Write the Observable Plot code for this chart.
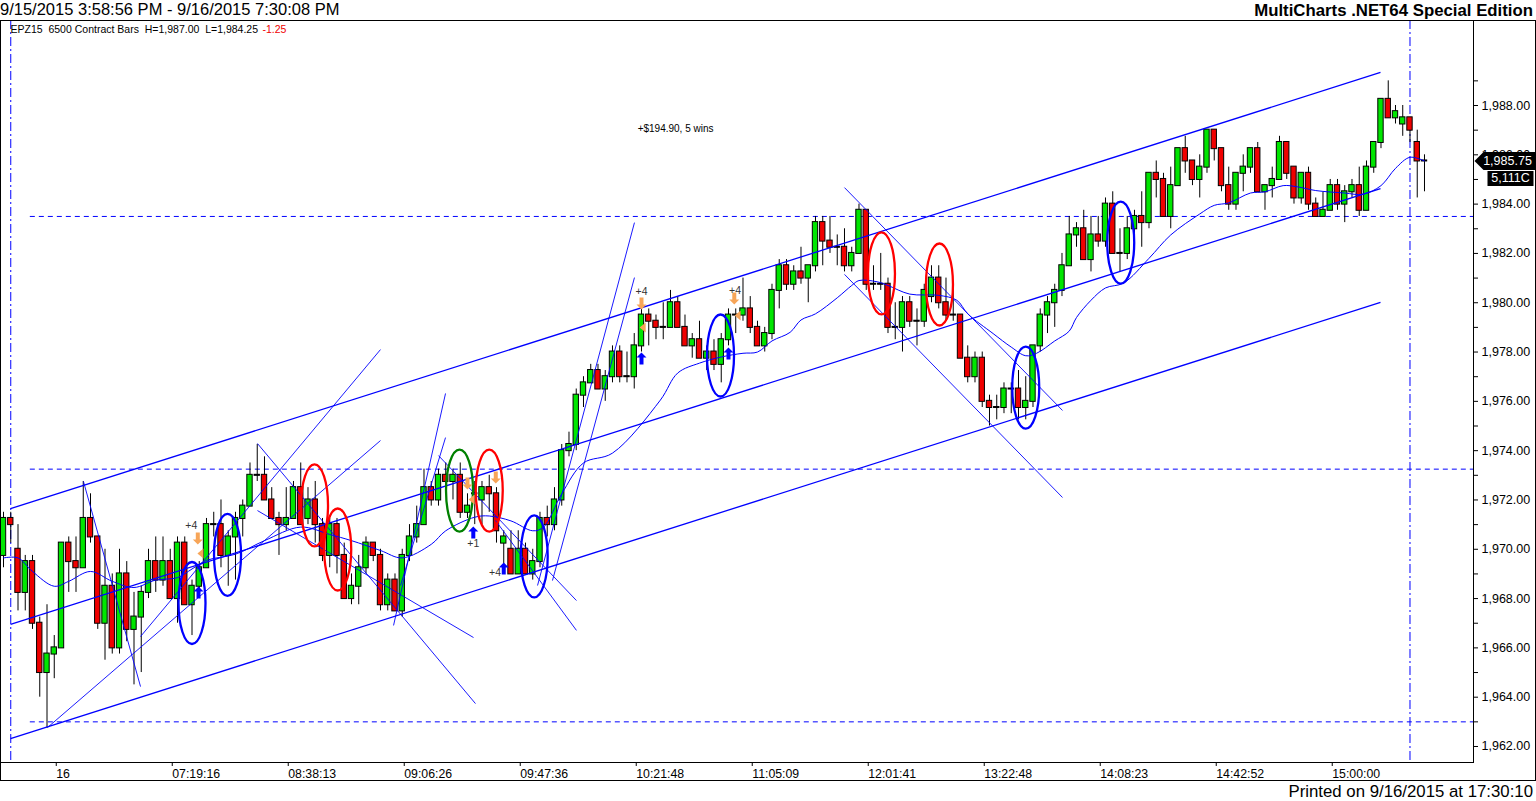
<!DOCTYPE html>
<html><head><meta charset="utf-8">
<script src="https://cdn.jsdelivr.net/npm/d3@7"></script>
<script src="https://cdn.jsdelivr.net/npm/@observablehq/plot@0.6"></script>
<style>
html,body{margin:0;padding:0;background:#fff;}
body{width:1536px;height:801px;overflow:hidden;font-family:"Liberation Sans",Arial,sans-serif;color:#000;}
#hdr{position:relative;height:20px;}
#title{position:absolute;left:0;top:0px;font-size:16.5px;line-height:19px;white-space:nowrap;}
#brand{position:absolute;right:3px;top:1px;font-size:16.8px;line-height:19px;font-weight:bold;white-space:nowrap;}
#ftr{position:relative;height:20px;}
#printed{position:absolute;right:3px;top:1px;font-size:16.8px;line-height:19px;white-space:nowrap;}
#chart svg{display:block;outline:1px solid #000;outline-offset:-1px;}
</style></head>
<body>
<div id="hdr"><span id="title">9/15/2015 3:58:56 PM - 9/16/2015 7:30:08 PM</span><span id="brand">MultiCharts .NET64 Special Edition</span></div>
<div id="chart"></div>
<div id="ftr"><span id="printed">Printed on 9/16/2015 at 17:30:10</span></div>
<script>
// ---- candle data (6500 contract bars, EPZ15) ----
const opens = [
1969.75,1971.25,1970,1968.25,1969.5,1967,1965,1965.75,1966,1970.25,
1969.5,1969.25,1971.25,1970.5,1967,1968.5,1966,1969,1966.75,1967.25,
1968.25,1969.5,1968.75,1969.5,1968,1970.25,1967.75,1968.5,1969.25,1971,
1971,1969.75,1970.5,1971.25,1971.75,1973,1973,1972,1971.25,1971,
1971.25,1972.5,1971.25,1972,1971,1969.75,1971,1969.75,1968,1968.5,
1969.25,1970.25,1969.75,1967.75,1968.75,1967.5,1969.75,1970.5,1971,1972.5,
1972,1973,1972.75,1973,1971.5,1972.25,1972,1972.5,1972.25,1970.25,
1970,1969,1970,1969,1969.5,1971.25,1971,1972,1974,1974.25,
1976.25,1976.75,1977.25,1976.5,1977,1978,1977,1977,1978.25,1979.5,
1979.25,1979,1979,1980,1979,1978.25,1978.5,1977.75,1978,1977.5,
1978.5,1979.5,1979.5,1979.75,1979,1978.25,1978.75,1980.5,1981.5,1980.75,
1981.25,1981,1981.5,1983.25,1982.5,1982.25,1982.25,1981.5,1982,1983.75,
1980.75,1980.75,1980.75,1979,1979,1980,1979.25,1979.25,1980.25,1981,
1980,1979.5,1979.5,1977.75,1977,1977.75,1976,1975.75,1975.75,1976.5,
1976.5,1975.75,1976,1978.25,1979.5,1980,1980.5,1981.5,1982.75,1983,
1981.75,1982.75,1982.5,1984,1982,1982,1983,1983.5,1983.25,1985.25,
1985,1983.5,1984.75,1986.25,1985.75,1985,1985.5,1987,1986.25,1984.75,
1984,1985.25,1985.5,1986.25,1984.5,1984.75,1985,1986.5,1985.5,1984.25,
1985.25,1984,1983.5,1983.75,1984.75,1984,1984.5,1984.75,1983.75,1985.5,
1986.5,1988.25,1987.5,1987.25,1987.5,1986.5,1985.75];
const highs = [
1971.5,1971.5,1971,1969.75,1969.75,1967.25,1967.75,1966.5,1970.25,1970.5,
1970.5,1972.75,1972.25,1970.5,1970,1969,1970,1969.5,1968.25,1968.5,
1970,1970.5,1970.5,1970,1970.5,1970.5,1968.75,1969.5,1971.25,1971.5,
1972,1970.75,1971.5,1972,1973.5,1974.25,1973.75,1972.5,1971.5,1972.5,
1972.75,1973.5,1972.5,1972.75,1971.25,1971.25,1971.25,1970.25,1969,1969.75,
1970.5,1970.25,1970,1969,1969,1970,1971,1971.75,1973.25,1972.75,
1973.25,1973.5,1973.25,1973.5,1972.25,1972.75,1972.75,1973,1972.5,1970.75,
1970.75,1970.75,1970.25,1970,1971.5,1971.75,1972.5,1974.25,1974.75,1976.5,
1977,1977.5,1977.5,1977.25,1978.25,1978.25,1978,1978.75,1979.75,1979.75,
1979.5,1980,1980.5,1980.25,1979.5,1978.75,1979.25,1978.25,1978.5,1978.75,
1979.75,1979.75,1981,1980.25,1979.25,1979,1980.75,1981.75,1981.75,1981.5,
1982.25,1981.5,1983.5,1983.5,1983.5,1982.75,1983,1982.25,1984,1983.75,
1981.5,1982,1981,1980,1980.25,1980.25,1979.75,1980.75,1981.5,1981.5,
1981,1980.75,1979.5,1978.25,1978,1978,1976.25,1976.25,1976.75,1976.75,
1977.25,1977,1978.25,1979.75,1980.25,1980.75,1982,1983.5,1983.25,1983.75,
1983.5,1983.5,1984.25,1984.5,1983,1983.5,1983.75,1984.5,1985.25,1985.75,
1985.25,1985.5,1986.25,1986.75,1985.75,1986,1987,1987,1986.25,1985.5,
1985.25,1986,1986.25,1986.5,1984.75,1985.5,1986.75,1986.5,1985.5,1985.25,
1985.5,1984.25,1984.5,1985,1985,1984.75,1985,1985.5,1985.75,1986.5,
1988.25,1989,1988,1988,1987.5,1987,1986];
const lows = [
1969.25,1970.25,1967.5,1967.5,1966.75,1964,1962.75,1964.75,1966,1968.25,
1968.25,1969.25,1970.25,1966.75,1965.5,1965.75,1965.75,1966.25,1964.5,1965,
1968,1968.25,1968.5,1968,1967,1967.75,1966.5,1968.25,1969.25,1970.5,
1969.25,1968.5,1968.75,1970.5,1971.75,1972.75,1972,1971.25,1969.75,1970.75,
1971.25,1971,1971,1970.25,1969.5,1969.25,1969,1968,1967.75,1967.75,
1969,1969.5,1967.5,1967.5,1967.5,1967.25,1969.5,1970.25,1971,1971.75,
1971.75,1972.25,1972,1971.25,1971.25,1971,1971,1971.5,1970.25,1969.25,
1969,1969,1969,1968.75,1969.25,1970.5,1970.75,1971.75,1973.75,1974,
1975.75,1976.75,1976.5,1976,1976.75,1976.75,1976.75,1976.5,1978,1978.25,
1978.5,1978.5,1979,1979,1978.25,1977.75,1977.75,1977.25,1977.25,1976.75,
1978.25,1978.75,1979.25,1978.75,1978.25,1978,1978.5,1979.75,1980.5,1980.5,
1980.75,1980,1981.25,1981.5,1982,1981.5,1981.25,1981.25,1982,1980.5,
1980.5,1980.5,1978.75,1978.5,1978,1979,1978.25,1979,1980,1979.75,
1979.25,1979.25,1977.75,1976.75,1976.75,1975.75,1975,1975.25,1975.5,1975.5,
1975.25,1975.25,1975.75,1978,1978.75,1979,1980.25,1981.5,1982.25,1981.75,
1981.25,1982.25,1982.25,1982,1981.25,1981.75,1982.25,1982.25,1983,1984.25,
1983.5,1983,1984.75,1985.25,1984.75,1984.25,1985.25,1985.75,1984.5,1983.75,
1983.75,1984.5,1985.25,1984.5,1983.75,1984.25,1985,1985,1984,1984,
1983.75,1983.5,1983.5,1983.75,1983.75,1983.25,1984.25,1983.5,1983.75,1985.25,
1986.25,1987.5,1987.25,1986.75,1986.5,1984.25,1984.5];
const closes = [
1971.25,1971,1968.25,1969.5,1967,1965,1965.75,1966,1970.25,1969.5,
1969.25,1971.25,1970.5,1967,1968.5,1966,1969,1966.75,1967.25,1968.25,
1969.5,1968.75,1969.5,1968,1970.25,1967.75,1968.5,1969.25,1971,1971,
1969.75,1970.5,1971.25,1971.75,1973,1973,1972,1971.25,1971,1971.25,
1972.5,1971,1972,1971,1969.75,1971,1969.75,1968,1968.5,1969.25,
1970.25,1969.75,1967.75,1968.75,1967.5,1969.75,1970.5,1971,1972.5,1972,
1973,1972.75,1973,1971.5,1971.75,1972.25,1972.5,1972.25,1970.75,1970.5,
1969,1970,1969,1969.5,1971.25,1971,1972,1974,1974.25,1976.25,
1976.75,1977.25,1976.5,1977,1978,1977,1977,1978.25,1979.5,1979.25,
1979,1979,1980,1979,1978.25,1978.5,1977.75,1978,1977.5,1978.5,
1979.5,1979.5,1979.75,1979,1978.25,1978.75,1980.5,1981.5,1980.75,1981.25,
1981,1981.5,1983.25,1982.5,1982.25,1982.25,1981.5,1982,1983.75,1980.75,
1980.75,1980.75,1979,1979,1980,1979.25,1979.25,1980.5,1981,1980,
1979.5,1979.5,1977.75,1977,1977.75,1976,1975.75,1975.75,1976.5,1976.5,
1975.75,1976,1978.25,1979.5,1980,1980.5,1981.5,1982.75,1983,1981.75,
1982.75,1982.5,1984,1982,1982,1983,1983.5,1983.25,1985.25,1985,
1983.5,1984.75,1986.25,1985.75,1985,1985.5,1987,1986.25,1984.75,1984,
1985.25,1985.5,1986.25,1984.5,1984.75,1985,1986.5,1985.25,1984.25,1985.25,
1984,1983.5,1983.75,1984.75,1984,1984.5,1984.75,1983.75,1985.5,1986.5,
1988.25,1987.5,1987.75,1987.5,1987,1985.75,1985.75];

// ---- x-axis ticks (bar index -> time label) ----
const tickIdx = [7,23,39,55,71,87,103,119,135,151,167,183];
const tickLabels = ["16","07:19:16","08:38:13","09:06:26","09:47:36","10:21:48","11:05:09","12:01:41","13:22:48","14:08:23","14:42:52","15:00:00"];
const yTicks = [1962,1964,1966,1968,1970,1972,1974,1976,1978,1980,1982,1984,1986,1988];
const yMinor = [1963,1965,1967,1969,1971,1973,1975,1977,1979,1981,1983,1985,1987,1989];

// ---- moving average ----
const maIdx = [0,2,4,7,9,12,15,18,21,24,26,28,32,36,41,45,48,52,55,59,61,65,67,70,73,74.5,77,80,84,90.6,93,96,99,102,104,106,108.5,110,112,115,117,118,120.5,122,125,129,131.5,133,136.5,139,141,142.5,145,147,148,150,152,154.5,158,161,165,167,169,172,174,176.5,178.5,181,185,187.5,190,192,194,196];
const maVal = [1969.65,1969.65,1969.1,1968.5,1968.7,1969.1,1968.7,1968.45,1968.75,1968.85,1969.2,1969.55,1969.8,1970.35,1970.9,1970.6,1970.35,1969.95,1969.65,1970.2,1970.75,1971.3,1971.35,1971.15,1970.75,1970.9,1972.25,1973.5,1973.9,1976.05,1977.15,1977.55,1977.8,1977.95,1978.0,1978.45,1978.8,1979.3,1979.55,1980.2,1980.7,1980.9,1980.85,1980.7,1980.35,1980.3,1980.1,1979.55,1978.75,1978.2,1977.85,1977.95,1978.45,1978.85,1979.4,1980.1,1980.6,1980.8,1981.8,1982.75,1983.6,1983.95,1984.05,1984.45,1984.5,1984.75,1984.7,1984.55,1984.45,1984.4,1984.75,1985.45,1985.9,1985.75];

// ---- regression channel ----
const chanX1 = [0.97,0.97,0.97];
const chanY1 = [1971.65,1966.95,1962.32];
const chanX2 = [189.93,189.93,189.93];
const chanY2 = [1989.34,1984.63,1980.01];

// ---- drawn trendlines ----
const trendX1 = [6.07,18.9,11.03,35.03,35.03,53.8,54.76,60.0,67.86,73.66,75.72,116.0,116.0];
const trendY1 = [1962.77,1966.46,1972.75,1974.29,1971.57,1966.91,1968.53,1973.80,1971.17,1968.53,1968.73,1984.67,1981.15];
const trendX2 = [52.0,52.0,18.9,65.1,64.83,60.97,60.97,79.03,79.03,87.03,87.03,146.07,146.07];
const trendY2 = [1974.41,1978.10,1964.43,1963.74,1966.42,1976.32,1974.53,1967.92,1966.71,1983.25,1981.02,1975.63,1972.10];

// ---- horizontal levels & session markers ----
const hLevels = [1983.5,1973.25,1963];
const hStartIdx = 3.7;
const sessionIdx = [1,194];

// ---- ellipse highlights ----
const ellIdx = [26.0,30.9,73.2,98.9,141.0,154.1,42.9,46.1,67.0,121.1,129.1,62.9];
const ellPrice = [1967.82,1969.77,1969.71,1977.86,1976.56,1982.44,1971.78,1969.99,1972.38,1981.19,1980.74,1972.38];
const ellColor = ["#0000ff","#0000ff","#0000ff","#0000ff","#0000ff","#0000ff","#ff0000","#ff0000","#ff0000","#ff0000","#ff0000","#008000"];

// ---- trade markers ----
const buyIdx = [26.9,64.8,69.0,88.0,100.0];
const buyPrice = [1968.25,1970.68,1969.22,1977.74,1977.94];
const exitIdx = [26.8,64.0,67.9,88.0,100.8];
const exitPrice = [1970.44,1972.67,1972.91,1979.97,1980.17];
const markIdx = [27.3,64.7,88.3,101.4];
const markPrice = [1969.83,1972.02,1979.0,1979.48];
const tradeLblIdx = [25.9,64.8,67.8,88.0,100.9];
const tradeLblPrice = [1970.96,1970.23,1969.06,1980.45,1980.5];
const tradeLbl = ["+4","+1","+4","+4","+4"];
const summaryIdx = [92.7];
const summaryPrice = [1987.07];
const summaryText = ["+$194.90, 5 wins"];

const lastClose = [1985.75];
const lastVolume = ["5,111C"];
const headerMain = ["EPZ15  6500 Contract Bars  H=1,987.00  L=1,984.25"];
const headerChange = ["-1.25"];

// ---- build tables ----
const candles = opens.map((o, i) => ({i, open: o, high: highs[i], low: lows[i], close: closes[i],
  color: closes[i] > o ? "#00e600" : closes[i] < o ? "#f00000" : "#000000"}));
const ma = maIdx.map((x, k) => ({x, y: maVal[k]}));
const chans = chanX1.map((x, k) => ({x1: x, y1: chanY1[k], x2: chanX2[k], y2: chanY2[k]}));
const trends = trendX1.map((x, k) => ({x1: x, y1: trendY1[k], x2: trendX2[k], y2: trendY2[k]}));
const ells = ellIdx.map((x, k) => ({x, y: ellPrice[k], c: ellColor[k]}));
const buys = buyIdx.map((x, k) => ({x, y: buyPrice[k]}));
const exits = exitIdx.map((x, k) => ({x, y: exitPrice[k]}));
const marks = markIdx.map((x, k) => ({x, y: markPrice[k]}));
const tlbls = tradeLblIdx.map((x, k) => ({x, y: tradeLblPrice[k], t: tradeLbl[k]}));
const summ = summaryIdx.map((x, k) => ({x, y: summaryPrice[k], t: summaryText[k]}));

const X_DOMAIN = [-0.414, 202.76];
const Y_DOMAIN = [1961.351, 1991.448];

const ellipseSym = {draw(ctx) {
  const rx = 13.5, ry = 41, k = 0.5523;
  ctx.moveTo(rx, 0);
  ctx.bezierCurveTo(rx, k * ry, k * rx, ry, 0, ry);
  ctx.bezierCurveTo(-k * rx, ry, -rx, k * ry, -rx, 0);
  ctx.bezierCurveTo(-rx, -k * ry, -k * rx, -ry, 0, -ry);
  ctx.bezierCurveTo(k * rx, -ry, rx, -k * ry, rx, 0);
  ctx.closePath();
}};
const priceBadge = {draw(ctx) {
  ctx.moveTo(1, 0); ctx.lineTo(10, -9); ctx.lineTo(62, -9); ctx.lineTo(62, 9); ctx.lineTo(10, 9); ctx.closePath();
}};
const volBadge = {draw(ctx) {
  ctx.moveTo(14, -7.5); ctx.lineTo(60, -7.5); ctx.lineTo(60, 7.5); ctx.lineTo(14, 7.5); ctx.closePath();
}};
// thick arrow glyph shapes (MultiCharts trade arrows)
const upArrow = {draw(ctx) {
  ctx.moveTo(0, -6); ctx.lineTo(5, -1); ctx.lineTo(2, -1); ctx.lineTo(2, 6); ctx.lineTo(-2, 6); ctx.lineTo(-2, -1); ctx.lineTo(-5, -1); ctx.closePath();
}};
const downArrow = {draw(ctx) {
  ctx.moveTo(0, 6); ctx.lineTo(5, 1); ctx.lineTo(2, 1); ctx.lineTo(2, -6); ctx.lineTo(-2, -6); ctx.lineTo(-2, 1); ctx.lineTo(-5, 1); ctx.closePath();
}};
const leftTri = {draw(ctx) {
  ctx.moveTo(-4, 0); ctx.lineTo(2, -5); ctx.lineTo(2, 5); ctx.closePath();
}};

const BLUE = "#0000ff";
const FONT = "Liberation Sans, Arial, sans-serif";

const plot = Plot.plot({
  width: 1536, height: 761,
  marginTop: 0, marginBottom: 19, marginLeft: 0, marginRight: 63,
  x: {domain: X_DOMAIN, label: null},
  y: {domain: Y_DOMAIN, label: null},
  style: {fontFamily: FONT, fontSize: "12px", color: "#000", background: "#fff", overflow: "visible"},
  marks: [
    Plot.frame({stroke: "#000"}),
    Plot.ruleY(hLevels, {y: d => d, x1: () => hStartIdx, x2: () => X_DOMAIN[1], stroke: BLUE, strokeDasharray: "5,4", strokeWidth: 1}),
    Plot.ruleX(sessionIdx, {x: d => d, stroke: BLUE, strokeDasharray: "9,3,2,3", strokeWidth: 1}),
    // candles
    Plot.ruleX(candles, {x: "i", y1: "low", y2: "high", stroke: "#000", strokeWidth: 1}),
    Plot.rect(candles, {x1: d => d.i - 0.37, x2: d => d.i + 0.37, y1: "open", y2: "close", fill: "color", stroke: "#000", strokeWidth: 1, insetTop: -0.5, insetBottom: -0.5}),
    // lines
    Plot.link(chans, {x1: "x1", y1: "y1", x2: "x2", y2: "y2", stroke: BLUE, strokeWidth: 1.3}),
    Plot.link(trends, {x1: "x1", y1: "y1", x2: "x2", y2: "y2", stroke: BLUE, strokeWidth: 0.9}),
    Plot.line(ma, {x: "x", y: "y", stroke: BLUE, strokeWidth: 1, curve: "catmull-rom"}),
    // ellipses
    Plot.dot(ells, {x: "x", y: "y", symbol: ellipseSym, r: 5, fill: "none", stroke: "c", strokeWidth: 2.3}),
    // trade markers
    Plot.dot(exits, {x: "x", y: "y", symbol: downArrow, r: 5, fill: "#f7a558", stroke: "none"}),
    Plot.dot(marks, {x: "x", y: "y", symbol: leftTri, r: 5, fill: "#f7a558", stroke: "none"}),
    Plot.dot(buys, {x: "x", y: "y", symbol: upArrow, r: 5, fill: BLUE, stroke: "none"}),
    Plot.text(tlbls, {x: "x", y: "y", text: "t", fill: "#333", fontSize: 10.5, fontFamily: FONT}),
    Plot.text(summ, {x: "x", y: "y", text: "t", fill: "#000", fontSize: 10, fontFamily: FONT}),
    // header inside chart
    Plot.text(headerMain, {text: d => d, frameAnchor: "top-left", dx: 10, dy: 5, lineAnchor: "top", textAnchor: "start", fontSize: 10.5, fill: "#000"}),
    Plot.text(headerChange, {text: d => d, frameAnchor: "top-left", dx: 262, dy: 5, lineAnchor: "top", textAnchor: "start", fontSize: 10.5, fill: "#f00000"}),
    // axes
    Plot.axisY({anchor: "right", ticks: yMinor, tickFormat: () => "", tickSize: 4}),
    Plot.axisY({anchor: "right", ticks: yTicks, tickFormat: d3.format(",.2f"), tickSize: 4, tickPadding: 4, fontSize: 12.5}),
    Plot.axisX({anchor: "bottom", ticks: tickIdx, tickFormat: d => tickLabels[tickIdx.indexOf(d)], tickSize: 4, tickPadding: 3, textAnchor: "start", dx: 2, fontSize: 12.3}),
    // last price badges
    Plot.dot(lastClose, {y: d => d, frameAnchor: "right", symbol: priceBadge, r: 5, fill: "#000", stroke: "none"}),
    Plot.text(lastClose, {y: d => d, text: d => d3.format(",.2f")(d), frameAnchor: "right", textAnchor: "middle", dx: 34, fill: "#fff", fontSize: 12.5}),
    Plot.dot(lastClose, {y: d => d, frameAnchor: "right", dy: 17.5, symbol: volBadge, r: 5, fill: "#000", stroke: "none"}),
    Plot.text(lastClose, {y: d => d, text: (d, k) => lastVolume[k], frameAnchor: "right", textAnchor: "middle", dx: 37, dy: 17.5, fill: "#fff", fontSize: 12.5})
  ]
});
document.getElementById("chart").appendChild(plot);
</script>
</body></html>
